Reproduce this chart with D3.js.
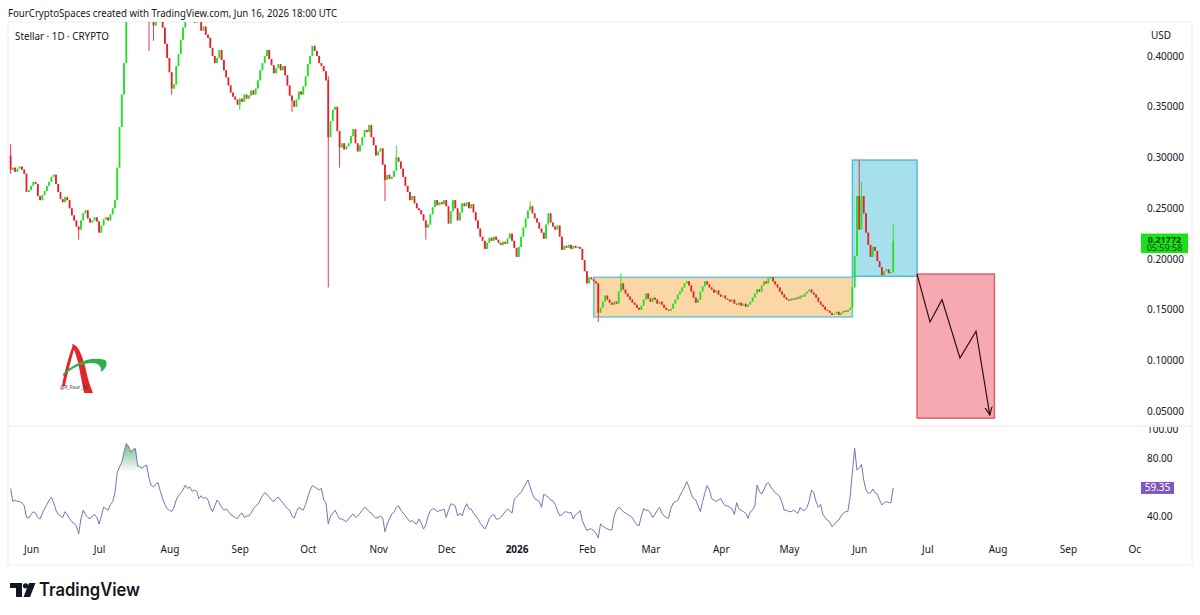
<!DOCTYPE html>
<html>
<head>
<meta charset="utf-8">
<script src="https://cdn.jsdelivr.net/npm/d3@7"></script>
<style>
body { margin: 0; background: #fff; font-family: "Noto Sans", Roboto, sans-serif; }
svg { display: block; }
</style>
</head>
<body>
<svg id="chart" width="1200" height="615"></svg>
<script>
// ---- data ----
var firstDay = "2025-05-23"
var firstOpen = 0.302

var closes = [
  0.288,0.290,0.286,0.289,0.291,0.288,0.284,0.266,0.268,0.272,
  0.276,0.274,0.262,0.258,0.263,0.267,0.272,0.276,0.281,0.283,
  0.274,0.266,0.259,0.256,0.261,0.258,0.250,0.243,0.238,0.232,
  0.229,0.238,0.245,0.248,0.240,0.236,0.238,0.241,0.237,0.226,
  0.233,0.239,0.241,0.238,0.244,0.250,0.258,0.290,0.330,0.362,
  0.393,0.440,0.462,0.470,0.480,0.465,0.472,0.495,0.470,0.458,
  0.452,0.438,0.442,0.430,0.437,0.445,0.440,0.428,0.412,0.398,
  0.384,0.368,0.372,0.390,0.402,0.416,0.428,0.448,0.442,0.446,
  0.438,0.433,0.440,0.436,0.425,0.429,0.421,0.418,0.408,0.400,
  0.393,0.398,0.406,0.396,0.386,0.379,0.371,0.364,0.360,0.357,
  0.352,0.358,0.355,0.362,0.358,0.361,0.366,0.362,0.368,0.376,
  0.386,0.393,0.400,0.406,0.397,0.391,0.383,0.388,0.392,0.386,
  0.390,0.381,0.371,0.361,0.356,0.350,0.357,0.365,0.362,0.370,
  0.380,0.392,0.400,0.410,0.405,0.400,0.393,0.390,0.385,0.376,
  0.320,0.336,0.347,0.350,0.326,0.310,0.314,0.308,0.311,0.314,
  0.321,0.328,0.314,0.306,0.312,0.320,0.327,0.325,0.332,0.320,
  0.312,0.302,0.306,0.309,0.293,0.278,0.283,0.279,0.281,0.287,
  0.300,0.296,0.289,0.281,0.272,0.266,0.258,0.262,0.255,0.250,
  0.248,0.244,0.238,0.231,0.234,0.244,0.251,0.258,0.253,0.256,
  0.254,0.258,0.252,0.235,0.247,0.258,0.250,0.238,0.246,0.255,
  0.252,0.256,0.250,0.254,0.246,0.238,0.230,0.222,0.218,0.210,
  0.216,0.221,0.218,0.222,0.219,0.216,0.214,0.217,0.215,0.220,
  0.225,0.218,0.211,0.202,0.212,0.222,0.231,0.240,0.248,0.252,
  0.245,0.240,0.236,0.230,0.226,0.220,0.234,0.245,0.236,0.232,
  0.229,0.233,0.222,0.209,0.213,0.211,0.214,0.210,0.213,0.211,
  0.212,0.210,0.199,0.188,0.176,0.182,0.180,0.178,0.176,0.147,
  0.152,0.158,0.164,0.160,0.157,0.155,0.158,0.156,0.168,0.176,
  0.170,0.166,0.163,0.160,0.157,0.155,0.152,0.150,0.154,0.160,
  0.166,0.161,0.158,0.162,0.160,0.156,0.158,0.155,0.152,0.150,
  0.149,0.151,0.156,0.160,0.165,0.168,0.172,0.176,0.178,0.174,
  0.168,0.162,0.157,0.160,0.168,0.173,0.178,0.175,0.172,0.170,
  0.167,0.169,0.165,0.163,0.164,0.161,0.160,0.158,0.160,0.156,
  0.155,0.157,0.154,0.156,0.153,0.155,0.158,0.162,0.166,0.170,
  0.168,0.174,0.178,0.176,0.181,0.182,0.178,0.175,0.172,0.168,
  0.165,0.162,0.160,0.159,0.161,0.160,0.162,0.161,0.164,0.163,
  0.166,0.168,0.170,0.167,0.165,0.162,0.158,0.155,0.153,0.150,
  0.149,0.147,0.145,0.146,0.148,0.145,0.147,0.149,0.148,0.150,
  0.152,0.172,0.203,0.262,0.229,0.262,0.245,0.226,0.214,0.202,
  0.212,0.208,0.198,0.192,0.184,0.188,0.190,0.186,0.187,0.21772
]

// [candle index, high, low] for the wicks that stand out
var wicks = [
  [0,0.313,0.284],[30,null,0.219],[61,null,0.405],[63,null,0.415],
  [71,null,0.362],[101,null,0.347],[124,null,0.345],[140,0.380,0.172],
  [145,null,0.290],[165,null,0.257],[170,0.312,null],[183,null,0.219],
  [229,0.257,null],[259,null,0.138],[269,0.186,null],[374,0.297,null],
  [375,0.276,null],[389,0.235,null]
]

var rsi = [
  59,50,51,50,50,49,47,39,38.6,41,
  43,42,39,38,42,45,48,51,53,49,
  44,41,40,39,43,41,38,36,35,33,
  27.6,38,44,41,39,38,40,41,39,34.5,
  40,46,45,44,48,50,56,70,74,77,
  84,90,88,84,86,86.5,74.5,74,73,74.5,
  75,66,61,60,62,63,57,52,48,45,
  44,43,46,51,54,56,58,61.4,59,60,
  57,58,57,52,54,52,53,51,46,43,
  47,51,49,46,44,45,43,41,40,39,
  38,41,42,39,40,40,42,45,47,48,
  51,54,56,55,53,51,50,52,53,51,
  49,47,45,44,40,38.6,43,46,45,44,
  48,53,58,61,60,59,58,59,51,49,
  34.5,40,42,44,41,38,38,37,36,38,
  40,41.4,39,40,42,44,46,45,43,42,
  40,38.6,39,40,38.6,29.2,34.5,38,41.4,42.5,
  46,47,44,42,40,38,36,37,35,34.5,
  38,35,31,34,40,43.7,45,44.8,43,43.7,
  44,44.8,39,44,48.4,48,47,40,42,40,
  45,48.5,45,44.8,42,40,38,35,33,31,
  34,38.6,40,41,37.9,38,39,41,43,44.8,
  43.7,42,51.7,53,55,56.3,59,62,64.8,60,
  55,52,51,50,46,55,54,53,51,50.5,
  48,44,40.3,41,42.5,43,42,42.5,38,41,
  42,43.7,36.8,33,30,31,31,30,28,25,
  34.5,33,32,31,30.5,30.3,40,44,46,45,
  43,42,41,40,39,36,34,33.3,40,45,
  44,44,42,39,41,44,46,42,40,39,
  38.4,45,49,50,50.6,54,56.9,60,63.8,60,
  55,52,51,47,43,50,56,61,58,52,
  51,50,51,52,49,47,47,46,45,41,
  49.2,45,44,43,41.8,38.4,43,44,47,61.4,
  57,55,58,62,63,60,58,56,55,53.3,
  49,44,44,43,43,44,43,41.8,46,44,
  44,46,50.6,57.9,56,50,46,48,41,39,
  37,36.1,32.6,34,36,37.2,40,42,43,43,
  53.3,70,86.7,71.7,73,75.6,64.8,58,55.6,56,
  58.6,56,55,51,47.6,49,50,49.2,49.2,59.35
]

var priceTicks = [0.05, 0.10, 0.15, 0.20, 0.25, 0.30, 0.35, 0.40]
var rsiTicks = [40, 80, 100]
var monthTicks = ["2025-06-01","2025-07-01","2025-08-01","2025-09-01","2025-10-01",
  "2025-11-01","2025-12-01","2026-01-01","2026-02-01","2026-03-01","2026-04-01",
  "2026-05-01","2026-06-01","2026-07-01","2026-08-01","2026-09-01","2026-10-01"]

// drawings on the chart: [from, to, low price, high price]
var rangeBox = ["2026-02-04", "2026-05-29", 0.143, 0.182]
var targetBox = ["2026-05-29", "2026-06-26T12:00", 0.183, 0.2975]
var stopBox = ["2026-06-26T12:00", "2026-07-30T14:00", 0.0433, 0.1852]
var pathDates = ["2026-06-26T12:00","2026-07-02T05:00","2026-07-07T12:00","2026-07-15T10:00","2026-07-22T12:00","2026-07-28T14:00"]
var pathPrices = [0.1852, 0.138, 0.160, 0.1025, 0.129, 0.0463]

var lastLabel = "0.21772", countdown = "05:59:58", rsiLabel = "59.35"

// ---- layout ----
var svg = d3.select('#chart')
var left = 8, right = 1141, axisRightEdge = 1192
var mainTop = 22, mainBottom = 425, rsiTop = 427, rsiBottom = 541, frameBottom = 565
var up = '#22e022', down = '#e8202c', ink = '#131722'

var parse = function(s) { return new Date(s.length > 10 ? s + ':00Z' : s + 'T00:00:00Z') }
var day0 = parse(firstDay)

var x = d3.scaleUtc()
  .domain([day0, parse('2026-10-01')])
  .range([10.6, 1136])
var y = d3.scaleLinear().domain([0.0365, 0.4335]).range([mainBottom, mainTop])
var yr = d3.scaleLinear().domain([100, 40]).range([429, 516])

var defs = svg.append('defs')
defs.append('clipPath').attr('id', 'clipMain')
  .append('rect').attr('x', left).attr('y', mainTop).attr('width', right - left).attr('height', mainBottom - mainTop)
defs.append('clipPath').attr('id', 'clipRsi')
  .append('rect').attr('x', left).attr('y', rsiTop).attr('width', right - left).attr('height', rsiBottom - rsiTop)
defs.append('clipPath').attr('id', 'clipOver')
  .append('rect').attr('x', left).attr('y', rsiTop).attr('width', 300).attr('height', yr(70) - rsiTop)
defs.append('clipPath').attr('id', 'clipTime')
  .append('rect').attr('x', left).attr('y', 541).attr('width', right - left).attr('height', 24)
defs.append('clipPath').attr('id', 'clipRsiAxis')
  .append('rect').attr('x', right).attr('y', rsiTop).attr('width', 60).attr('height', rsiBottom - rsiTop)

var grad = defs.append('linearGradient').attr('id', 'obFill')
  .attr('x1', 0).attr('x2', 0)
  .attr('gradientUnits', 'userSpaceOnUse')
  .attr('y1', yr(92)).attr('y2', yr(70))
grad.append('stop').attr('offset', 0).attr('stop-color', '#2e9e48').attr('stop-opacity', 0.75)
grad.append('stop').attr('offset', 1).attr('stop-color', '#2e9e48').attr('stop-opacity', 0)

defs.append('marker').attr('id', 'arrowHead')
  .attr('viewBox', '0 0 10 10').attr('refX', 9).attr('refY', 5)
  .attr('markerWidth', 9).attr('markerHeight', 9).attr('orient', 'auto')
  .attr('markerUnits', 'userSpaceOnUse')
  .append('path').attr('d', 'M0,1 L9,5 L0,9').attr('fill', 'none')
  .attr('stroke', '#2b1212').attr('stroke-width', 1.3)

// header
svg.append('text')
  .attr('x', 8).attr('y', 17)
  .attr('font-size', 11).attr('fill', ink)
  .attr('textLength', 329).attr('lengthAdjust', 'spacingAndGlyphs')
  .text('FourCryptoSpaces created with TradingView.com, Jun 16, 2026 18:00 UTC')

// frame
svg.append('rect')
  .attr('x', left).attr('y', mainTop).attr('width', axisRightEdge - left).attr('height', frameBottom - mainTop)
  .attr('fill', 'none').attr('stroke', '#eceef2')
svg.append('line')
  .attr('x1', left).attr('x2', axisRightEdge).attr('y1', 426).attr('y2', 426)
  .attr('stroke', '#e6e8ee')

// ---- candles ----
var candles = closes.map(function(c, i) {
  var o = i === 0 ? firstOpen : closes[i - 1]
  return { date: d3.utcDay.offset(day0, i), open: o, close: c,
           high: Math.max(o, c), low: Math.min(o, c) }
})
wicks.forEach(function(w) {
  if (w[1] !== null) candles[w[0]].high = w[1]
  if (w[2] !== null) candles[w[0]].low = w[2]
})

var main = svg.append('g').attr('clip-path', 'url(#clipMain)')

function box(spec, fill, stroke) {
  var x0 = x(parse(spec[0])), x1 = x(parse(spec[1]))
  main.append('rect')
    .attr('x', x0).attr('y', y(spec[3]))
    .attr('width', x1 - x0).attr('height', y(spec[2]) - y(spec[3]))
    .attr('fill', fill).attr('stroke', stroke).attr('stroke-width', 1.5)
}
box(rangeBox, '#fcd7a6', '#6cc4d6')
box(targetBox, '#a7e0ed', '#59bcd5')
box(stopBox, '#f7a9b1', '#e0606c')

main.append('g').selectAll('line')
  .data(candles)
  .enter()
  .append('line')
  .attr('x1', function(d) { return x(d.date) })
  .attr('x2', function(d) { return x(d.date) })
  .attr('y1', function(d) { return y(d.high) })
  .attr('y2', function(d) { return y(d.low) })
  .attr('stroke', function(d) { return d.close >= d.open ? up : down })
  .attr('stroke-width', 0.9)

main.append('g').selectAll('rect')
  .data(candles)
  .enter()
  .append('rect')
  .attr('x', function(d) { return x(d.date) - 0.9 })
  .attr('width', 1.8)
  .attr('y', function(d) { return y(Math.max(d.open, d.close)) })
  .attr('height', function(d) { return Math.max(1, Math.abs(y(d.open) - y(d.close))) })
  .attr('fill', function(d) { return d.close >= d.open ? up : down })

// forecast path
var pathPts = pathDates.map(function(d, i) { return [x(parse(d)), y(pathPrices[i])] })
main.append('path')
  .attr('d', d3.line()(pathPts))
  .attr('fill', 'none').attr('stroke', '#2b1212').attr('stroke-width', 1.2)
  .attr('marker-end', 'url(#arrowHead)')

// pane label
svg.append('text')
  .attr('x', 15).attr('y', 40)
  .attr('font-size', 11).attr('fill', ink)
  .attr('textLength', 94).attr('lengthAdjust', 'spacingAndGlyphs')
  .text('Stellar · 1D · CRYPTO')

// watermark logo
var logo = svg.append('g')
logo.append('path')
  .attr('d', 'M62,386 C64,374 68,358 73,345 L75,346 C71,360 67,375 65,386 Z')
  .attr('fill', '#e3262c')
logo.append('path')
  .attr('d', 'M72,344 C79,345 82,356 85,366 C87,375 89,384 93,393 L84,393 C82,383 80,372 78,362 C76,355 74,349 72,344 Z')
  .attr('fill', '#e3262c')
logo.append('path')
  .attr('d', 'M63,374 C74,363 91,356 105,360 C108,362 107,368 101,372 C102,367 99,363 92,363 C82,363 72,368 63,376 Z')
  .attr('fill', '#2fae4a')
logo.append('text')
  .attr('x', 60).attr('y', 389)
  .attr('font-size', 5).attr('fill', '#333')
  .text('@X_Four_fo')

// ---- RSI ----
var rsiPts = rsi.map(function(v, i) { return { date: d3.utcDay.offset(day0, i), v: v } })
var rsiG = svg.append('g').attr('clip-path', 'url(#clipRsi)')

rsiG.append('g').attr('clip-path', 'url(#clipOver)')
  .append('path')
  .datum(rsiPts)
  .attr('d', d3.area()
    .x(function(d) { return x(d.date) })
    .y0(yr(70))
    .y1(function(d) { return yr(d.v) }))
  .attr('fill', 'url(#obFill)')

rsiG.append('path')
  .datum(rsiPts)
  .attr('d', d3.line()
    .x(function(d) { return x(d.date) })
    .y(function(d) { return yr(d.v) }))
  .attr('fill', 'none').attr('stroke', '#7e6fb8').attr('stroke-width', 1)

// ---- axes ----
var priceAxis = svg.append('g')
  .attr('transform', 'translate(1147,0)')
  .call(d3.axisRight(y).tickValues(priceTicks).tickFormat(d3.format('.5f')).tickSize(0).tickPadding(0))
priceAxis.select('.domain').remove()
priceAxis.selectAll('text').attr('font-size', 10).attr('fill', ink).attr('font-family', '"Noto Sans", Roboto, sans-serif')

svg.append('text')
  .attr('x', 1151).attr('y', 39)
  .attr('font-size', 10).attr('fill', ink)
  .text('USD')

var rsiAxis = svg.append('g')
  .attr('clip-path', 'url(#clipRsiAxis)')
  .append('g')
  .attr('transform', 'translate(1147,0)')
  .call(d3.axisRight(yr).tickValues(rsiTicks).tickFormat(d3.format('.2f')).tickSize(0).tickPadding(0))
rsiAxis.select('.domain').remove()
rsiAxis.selectAll('text').attr('font-size', 10).attr('fill', ink).attr('font-family', '"Noto Sans", Roboto, sans-serif')

var timeAxis = svg.append('g')
  .attr('clip-path', 'url(#clipTime)')
  .append('g')
  .attr('transform', 'translate(0,546)')
  .call(d3.axisBottom(x)
    .tickValues(monthTicks.map(parse))
    .tickFormat(function(d) { return d.getUTCMonth() === 0 ? String(d.getUTCFullYear()) : d3.utcFormat('%b')(d) })
    .tickSize(0).tickPadding(0))
timeAxis.select('.domain').remove()
timeAxis.selectAll('text')
  .attr('font-size', 10).attr('fill', ink).attr('font-family', '"Noto Sans", Roboto, sans-serif')
  .attr('font-weight', function(d) { return d.getUTCMonth() === 0 ? 'bold' : 'normal' })

// last price label (one text, two lines)
var ly = y(closes[closes.length - 1])
svg.append('rect')
  .attr('x', 1141).attr('y', ly - 7.5).attr('width', 47).attr('height', 19.5)
  .attr('fill', '#17e417')
var lastText = svg.append('text')
  .attr('text-anchor', 'middle')
  .attr('font-size', 9).attr('fill', '#0b3d0b')
lastText.append('tspan')
  .attr('x', 1164.5).attr('y', ly + 1.5).attr('font-weight', 'bold')
  .text(lastLabel)
lastText.append('tspan')
  .attr('x', 1164.5).attr('y', ly + 10)
  .text(countdown)

// rsi value label
var ry = yr(rsi[rsi.length - 1])
svg.append('rect')
  .attr('x', 1141).attr('y', ry - 6).attr('width', 33).attr('height', 12)
  .attr('fill', '#7e57c2')
svg.append('text')
  .attr('x', 1157.5).attr('y', ry + 3.5).attr('text-anchor', 'middle')
  .attr('font-size', 10).attr('fill', '#fff')
  .text(rsiLabel)

// footer logo
var tv = svg.append('g').attr('fill', ink)
tv.append('path').attr('d', 'M10,583 H22 V597 H16 V588 H10 Z')
tv.append('circle').attr('cx', 25.5).attr('cy', 585.8).attr('r', 2.6)
tv.append('path').attr('d', 'M29,583 H35.5 L30,597 H23.5 Z')
svg.append('text')
  .attr('x', 39).attr('y', 596)
  .attr('font-size', 18).attr('font-weight', 600).attr('fill', ink)
  .attr('font-family', 'Inter, "Noto Sans", sans-serif')
  .attr('textLength', 101).attr('lengthAdjust', 'spacingAndGlyphs')
  .text('TradingView')
</script>
</body>
</html>
